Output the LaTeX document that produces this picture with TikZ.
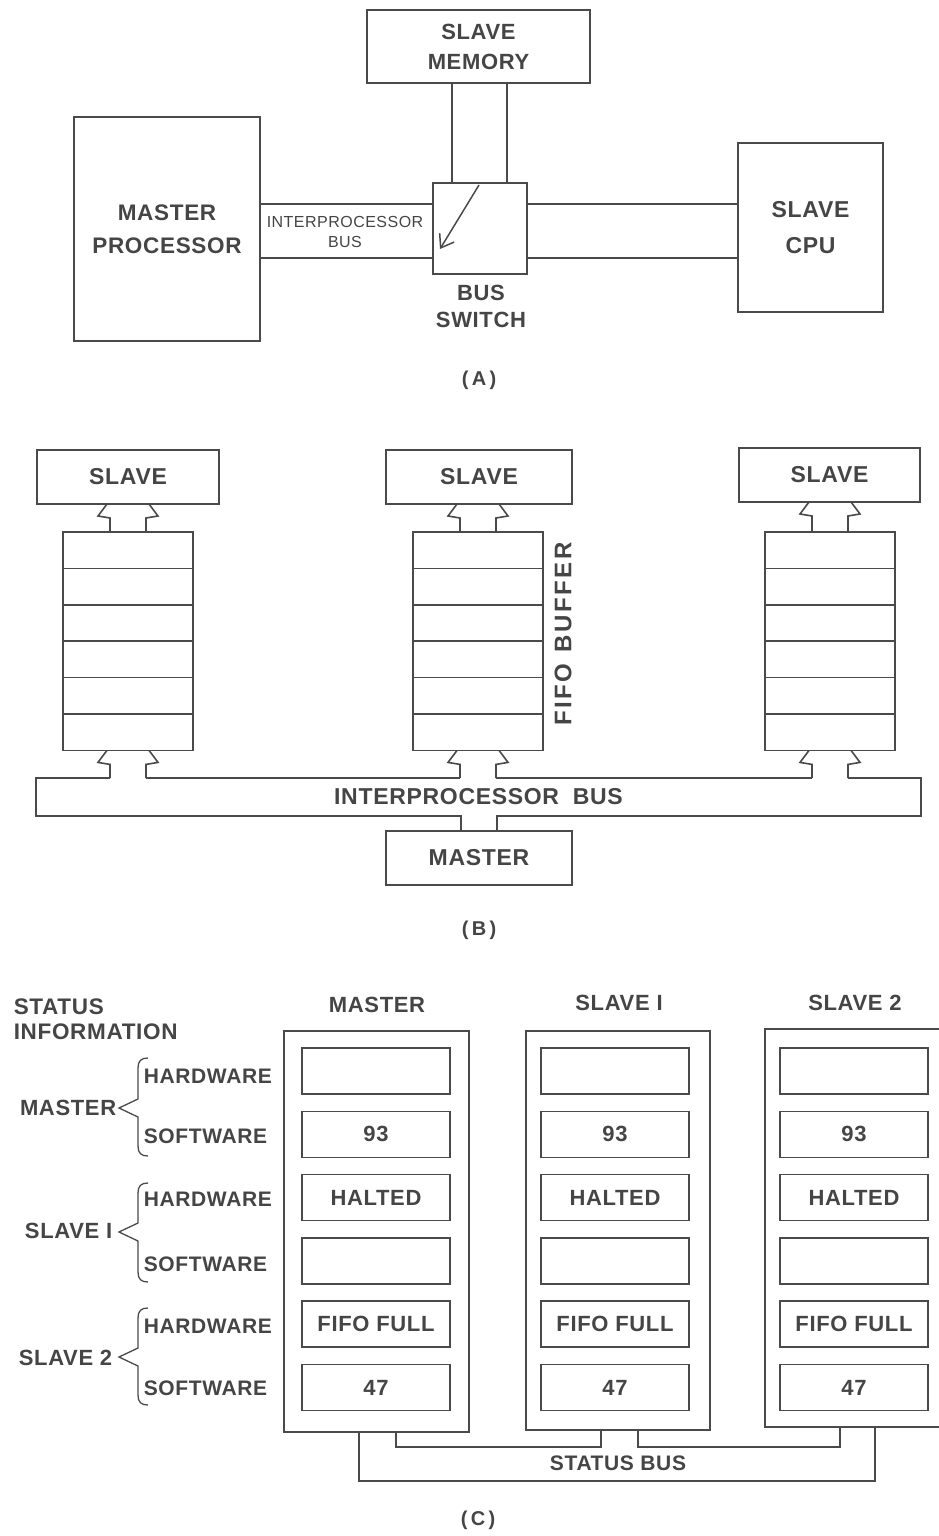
\documentclass[tikz,border=0pt]{standalone}
\usepackage{fontspec}
\setmainfont{Liberation Sans}[LetterSpace=3]
\usetikzlibrary{arrows.meta,calc}
\definecolor{lc}{HTML}{4A4A4A}
\definecolor{tc}{HTML}{454545}
\newcommand\fsz[2]{\fontsize{#1}{#2}\selectfont\bfseries}
\newcommand\busup[2]{%
  \draw let \p1=(#1), \p2=(#2) in
    ({\x2-18pt},\y2) -- ({\x2-18pt},{\y1-14pt}) -- ({\x2-30pt},{\y1-12pt}) -- ({\x2-21pt},\y1)
    ({\x2+18pt},\y2) -- ({\x2+18pt},{\y1-14pt}) -- ({\x2+30pt},{\y1-12pt}) -- ({\x2+21pt},\y1);}
\newcommand\gbrace[3]{%
  \draw[line width=1.3pt] (148,#1) .. controls (141,#1) and (138,{#1+3}) .. (138,{#1+10})
    -- (138,{#2-9}) -- (119,#2) -- (138,{#2+9}) -- (138,{#3-10})
    .. controls (138,{#3-3}) and (141,#3) .. (148,#3);}
\begin{document}
\begin{tikzpicture}[x=1pt,y=-1pt,line width=1.6pt,draw=lc,text=tc,
  box/.style={draw=lc,line width=1.6pt,inner sep=0pt,outer sep=0pt,align=center,text=tc},
  lbl/.style={inner sep=0pt,text=tc,align=center}]
\fill[white] (0,0) rectangle (938,1536);
\useasboundingbox (0,0) rectangle (938,1536);
% ---------------- (A) ----------------
\node[box,minimum width=223pt,minimum height=73pt,font=\fsz{22}{30}] (mem) at (478.5,46.5) {SLAVE\\MEMORY};
\node[box,minimum width=186pt,minimum height=224pt,font=\fsz{22.5}{33}] (mp) at (167,229) {MASTER\\PROCESSOR};
\node[box,minimum width=94pt,minimum height=91pt] (bs) at (480,228.5) {};
\node[box,minimum width=145pt,minimum height=169pt,font=\fsz{23}{36}] (cpu) at (810.5,227.5) {SLAVE\\CPU};
\node[lbl,font=\fsz{22}{27}] (bsl) at (481,306.5) {BUS\\SWITCH};
\node[lbl,font=\fontsize{16}{20}\selectfont] (ipl) at (345,232) {INTERPROCESSOR\\BUS};
\node[lbl,font=\fsz{20}{20}] (capA) at (479,380) {(\,A\,)};
\coordinate (ya1) at (0,204); \coordinate (ya2) at (0,258);
\coordinate (xm1) at (452,0); \coordinate (xm2) at (507,0);
\draw (mp.east |- ya1) -- (bs.west |- ya1);
\draw (mp.east |- ya2) -- (bs.west |- ya2);
\draw (bs.east |- ya1) -- (cpu.west |- ya1);
\draw (bs.east |- ya2) -- (cpu.west |- ya2);
\draw (mem.south -| xm1) -- (bs.north -| xm1);
\draw (mem.south -| xm2) -- (bs.north -| xm2);
\draw[line width=1.5pt,-{Straight Barb[length=12pt,width=17pt,line width=1.5pt]}] ($(bs.north)+(-1,2)$) -- ($(bs.south west)+(7,-25)$);
% ---------------- (B) ----------------
\node[box,minimum width=182pt,minimum height=54pt,font=\fsz{23}{24}] (sL) at (128,477) {SLAVE};
\node[box,minimum width=186pt,minimum height=54pt,font=\fsz{23}{24}] (sM) at (479,477) {SLAVE};
\node[box,minimum width=181pt,minimum height=54pt,font=\fsz{23}{24}] (sR) at (829.5,475) {SLAVE};
\foreach \n/\c in {L/128,M/478,R/830}{
  \foreach \i in {1,...,6}{
    \node[box,minimum width=130pt,minimum height=36.4pt] (st\n\i) at (\c,{532+36.4*(\i-0.5)}) {};
  }
}
\node[minimum width=883pt,minimum height=36pt,inner sep=0pt,font=\fsz{23}{24},text=tc] (ibus) at (478.5,797) {INTERPROCESSOR\hspace{0.6em}BUS};
\node[box,minimum width=186pt,minimum height=54pt,font=\fsz{23}{24}] (mst) at (479,858) {MASTER};
\node[lbl,rotate=90,font=\fsz{24}{25}\addfontfeature{LetterSpace=11}] (fifo) at (563,634) {FIFO\hspace{0.45em}BUFFER};
\node[lbl,font=\fsz{20}{20}] (capB) at (479,930) {(\,B\,)};
\busup{sL.south}{stL1.north}
\busup{sM.south}{stM1.north}
\busup{sR.south}{stR1.north}
\busup{stL6.south}{stL6.south |- ibus.north}
\busup{stM6.south}{stM6.south |- ibus.north}
\busup{stR6.south}{stR6.south |- ibus.north}
\draw let \p1=(stL6.south), \p2=(stM6.south), \p3=(stR6.south), \p4=(ibus.north west), \p5=(ibus.south east), \p6=(mst.north) in
  ({\x1-18pt},\y4) -- (\x4,\y4) -- (\x4,\y5) -- ({\x6-18pt},\y5) -- ({\x6-18pt},\y6)
  ({\x6+18pt},\y6) -- ({\x6+18pt},\y5) -- (\x5,\y5) -- (\x5,\y4) -- ({\x3+18pt},\y4)
  ({\x3-18pt},\y4) -- ({\x2+18pt},\y4)
  ({\x2-18pt},\y4) -- ({\x1+18pt},\y4);
% ---------------- (C) ----------------
\node[lbl,anchor=west,align=left,font=\fsz{22.5}{25}] (stinfo) at (13,1019.5) {STATUS\\INFORMATION};
\node[lbl,font=\fsz{22}{23}] (hM) at (377,1005) {MASTER};
\node[lbl,font=\fsz{22}{23}] (hS1) at (619,1003) {SLAVE I};
\node[lbl,font=\fsz{22}{23}] (hS2) at (855,1003) {SLAVE 2};
\node[box,minimum width=185pt,minimum height=401pt] (oM) at (376.5,1231.5) {};
\node[box,minimum width=184pt,minimum height=399pt] (oS1) at (618,1230.5) {};
\node[box,minimum width=184pt,minimum height=398pt] (oS2) at (857,1228) {};
\foreach \n/\c in {M/376,S1/615,S2/854}{
  \foreach \i/\t in {1/,2/93,3/HALTED,4/,5/FIFO FULL,6/47}{
    \node[box,minimum width=148pt,minimum height=46pt,font=\fsz{22}{23}] (r\n\i) at (\c,{1071+63.3*(\i-1)}) {\t};
  }
}
\foreach \nm/\y/\t in {mh/1076/HARDWARE,ms/1136/SOFTWARE,ah/1199/HARDWARE,as/1264/SOFTWARE,bh/1326/HARDWARE,bs2/1388/SOFTWARE}{
  \node[lbl,anchor=west,font=\fsz{21}{22}] (l\nm) at (143,\y) {\t};
}
\node[lbl,anchor=east,font=\fsz{22}{23}] (gM) at (117,1108) {MASTER};
\node[lbl,anchor=east,font=\fsz{22}{23}] (gS1) at (113,1231) {SLAVE I};
\node[lbl,anchor=east,font=\fsz{22}{23}] (gS2) at (113,1358) {SLAVE 2};
\gbrace{1058}{1108}{1156}
\gbrace{1183}{1232}{1282}
\gbrace{1308}{1357}{1405}
\coordinate (sbO) at (0,1481); \coordinate (sbI) at (0,1447);
\coordinate (x1) at (359,0); \coordinate (x2) at (396,0); \coordinate (x3) at (601,0);
\coordinate (x4) at (638,0); \coordinate (x5) at (840,0); \coordinate (x6) at (875,0);
\draw (oM.south -| x1) -- (x1 |- sbO) -- (x6 |- sbO) -- (oS2.south -| x6);
\draw (oM.south -| x2) -- (x2 |- sbI) -- (x3 |- sbI) -- (oS1.south -| x3);
\draw (oS1.south -| x4) -- (x4 |- sbI) -- (x5 |- sbI) -- (oS2.south -| x5);
\node[lbl,font=\fsz{21}{22}] (sbus) at (618,1463) {STATUS BUS};
\node[lbl,font=\fsz{20}{20}] (capC) at (478,1520) {(\,C\,)};
\end{tikzpicture}
\end{document}
